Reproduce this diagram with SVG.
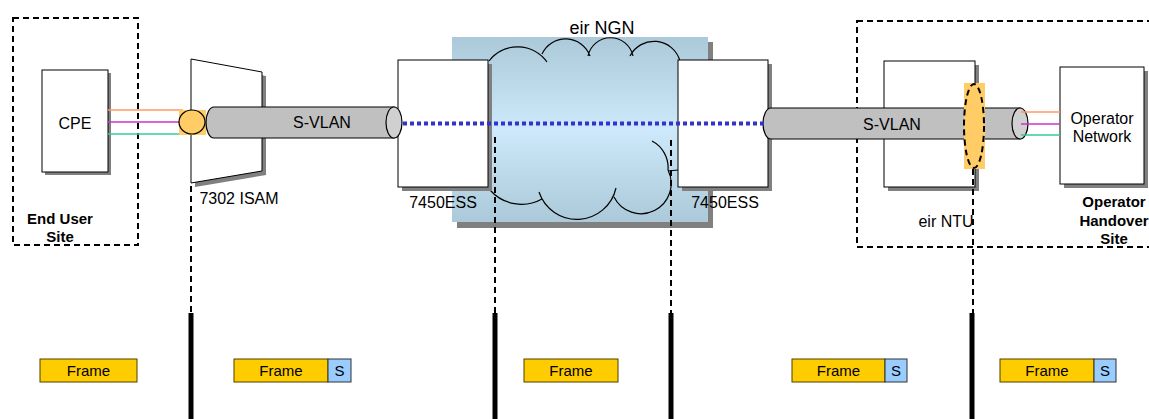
<svg xmlns="http://www.w3.org/2000/svg" width="1149" height="419" viewBox="0 0 1149 419">
<style>
text{font-family:"Liberation Sans",Arial,sans-serif;fill:#000}
.lbl{font-size:16px}
.bold{font-size:15px;font-weight:bold}
.ft{font-size:15px}
.box{fill:#fff;stroke:#000;stroke-width:1}
.shadow{fill:#808080}
.site{fill:none;stroke:#000;stroke-width:2;stroke-dasharray:6 4}
.vdash{fill:none;stroke:#000;stroke-width:2;stroke-dasharray:6 4}
.bar{stroke:#000;stroke-width:5}
.pipe{fill:#c0c0c0;stroke:#000;stroke-width:1.2}
.cap{fill:#d0d0d0;stroke:#000;stroke-width:1.2}
.frame{fill:#ffcc00;stroke:#4d4000;stroke-width:1}
.s{fill:#99ccff;stroke:#333;stroke-width:1}
.cloud{fill:none;stroke:#000;stroke-width:1.2}
.orange{fill:#ffcc66}
</style>
<defs>
<linearGradient id="ngn" x1="0" y1="0" x2="0" y2="1">
<stop offset="0" stop-color="#abc9d8"/>
<stop offset="0.5" stop-color="#cde9fb"/>
<stop offset="1" stop-color="#abc9d8"/>
</linearGradient>
</defs>

<g id="end-user-site">
<rect class="site" x="13" y="18" width="125" height="227"/>
<text class="bold" x="60" y="224" text-anchor="middle">End User</text>
<text class="bold" x="60" y="242" text-anchor="middle">Site</text>
</g>

<g id="operator-handover-site">
<rect class="site" x="857" y="21" width="320" height="226"/>
<text class="bold" x="1114" y="207" text-anchor="middle">Operator</text>
<text class="bold" x="1114" y="226" text-anchor="middle">Handover</text>
<text class="bold" x="1114" y="244" text-anchor="middle">Site</text>
</g>

<g id="eir-ngn">
<rect class="shadow" x="457" y="42" width="256" height="186"/>
<rect x="452" y="37" width="256" height="185" fill="url(#ngn)"/>
<path class="cloud" d="M489,61 A36,36 0 0 1 547,62 M542,54 A26,26 0 0 1 590,56 M588,56 A23,23 0 0 1 633,56 M630,56 A27,27 0 0 1 680,61"/>
<path class="cloud" d="M490,190 A42,42 0 0 0 542,199 M539,192 A40,40 0 0 0 616,188 M614,197 A30,30 0 0 0 668,170 M652,141 A30,30 0 0 1 668,170 M668,171 L678,170"/>
<text x="602" y="34" font-size="18" text-anchor="middle">eir NGN</text>
</g>

<g id="cpe">
<rect class="shadow" x="45" y="73" width="66" height="102"/>
<rect class="box" x="42" y="70" width="66" height="102"/>
<text class="lbl" x="75" y="129" text-anchor="middle">CPE</text>
</g>

<g id="isam">
<polygon class="shadow" points="195,63 266,76 266,175 195,187"/>
<polygon class="box" points="191,59 262,72 262,171 191,183"/>
<text class="lbl" x="239" y="204" text-anchor="middle">7302 ISAM</text>
</g>

<g id="ess-left">
<rect class="shadow" x="402" y="64" width="90" height="127"/>
<rect class="box" x="398" y="60" width="90" height="127"/>
<text class="lbl" x="443" y="208" text-anchor="middle">7450ESS</text>
</g>

<g id="ess-right">
<rect class="shadow" x="682" y="64" width="90" height="127"/>
<rect class="box" x="678" y="60" width="90" height="127"/>
<text class="lbl" x="725" y="208" text-anchor="middle">7450ESS</text>
</g>

<g id="eir-ntu">
<rect class="shadow" x="888" y="65" width="91" height="126"/>
<rect class="box" x="884" y="61" width="91" height="126"/>
<text class="lbl" x="946" y="227" text-anchor="middle">eir NTU</text>
</g>

<g id="operator-network">
<rect class="shadow" x="1064" y="71" width="84" height="117"/>
<rect class="box" x="1060" y="67" width="84" height="117"/>
<text class="lbl" x="1102" y="124" text-anchor="middle">Operator</text>
<text class="lbl" x="1102" y="142" text-anchor="middle">Network</text>
</g>

<g id="connectors">
<line x1="108" y1="110" x2="183" y2="110" stroke="#ff9966" stroke-width="1.5"/>
<line x1="108" y1="122" x2="183" y2="122" stroke="#cc33cc" stroke-width="1.5"/>
<line x1="108" y1="134" x2="183" y2="134" stroke="#33cc99" stroke-width="1.5"/>
<rect class="orange" x="179" y="110" width="27" height="25"/>
<ellipse class="orange" cx="192" cy="122" rx="13" ry="12" stroke="#000" stroke-width="1.2"/>
<path class="pipe" d="M214,107 H394 V138 H214 A8,15.5 0 0 1 214,107 Z"/>
<ellipse class="cap" cx="394" cy="122.5" rx="8" ry="15.5"/>
<text class="lbl" x="322" y="128" text-anchor="middle">S-VLAN</text>

<path class="pipe" d="M771,108 H1020 V139 H771 A8,15.5 0 0 1 771,108 Z"/>
<rect class="orange" x="964" y="83" width="21" height="86"/>
<ellipse cx="974" cy="126" rx="10" ry="42" fill="none" stroke="#000" stroke-width="2" stroke-dasharray="6 4"/>
<ellipse class="cap" cx="1020" cy="123.5" rx="8" ry="15.5"/>
<text class="lbl" x="892" y="130" text-anchor="middle">S-VLAN</text>
<line x1="1021" y1="112" x2="1060" y2="112" stroke="#ff9966" stroke-width="1.5"/>
<line x1="1021" y1="124" x2="1060" y2="124" stroke="#cc33cc" stroke-width="1.5"/>
<line x1="1021" y1="135" x2="1060" y2="135" stroke="#33cc99" stroke-width="1.5"/>

<line x1="403" y1="123.5" x2="764" y2="123.5" stroke="#3333cc" stroke-width="4" stroke-dasharray="4 3"/>

<line class="vdash" x1="191" y1="186" x2="191" y2="313"/>
<line class="vdash" x1="495" y1="137" x2="495" y2="313"/>
<line class="vdash" x1="671" y1="140" x2="671" y2="313"/>
<line class="vdash" x1="973" y1="169" x2="973" y2="313"/>
<line class="bar" x1="191" y1="313" x2="191" y2="419"/>
<line class="bar" x1="495" y1="313" x2="495" y2="419"/>
<line class="bar" x1="671" y1="313" x2="671" y2="419"/>
<line class="bar" x1="972" y1="313" x2="972" y2="419"/>
</g>

<g id="frames">
<rect class="frame" x="40" y="359" width="97" height="23"/>
<text class="ft" x="88.5" y="376" text-anchor="middle">Frame</text>
<rect class="frame" x="234" y="359" width="94" height="23"/>
<rect class="s" x="328" y="359" width="23" height="23"/>
<text class="ft" x="281" y="376" text-anchor="middle">Frame</text>
<text class="ft" x="339.5" y="376" text-anchor="middle">S</text>
<rect class="frame" x="524" y="359" width="94" height="23"/>
<text class="ft" x="571" y="376" text-anchor="middle">Frame</text>
<rect class="frame" x="792" y="359" width="93" height="23"/>
<rect class="s" x="885" y="359" width="22" height="23"/>
<text class="ft" x="838.5" y="376" text-anchor="middle">Frame</text>
<text class="ft" x="896" y="376" text-anchor="middle">S</text>
<rect class="frame" x="1000" y="359" width="94" height="23"/>
<rect class="s" x="1094" y="359" width="22" height="23"/>
<text class="ft" x="1047" y="376" text-anchor="middle">Frame</text>
<text class="ft" x="1105" y="376" text-anchor="middle">S</text>
</g>
</svg>
